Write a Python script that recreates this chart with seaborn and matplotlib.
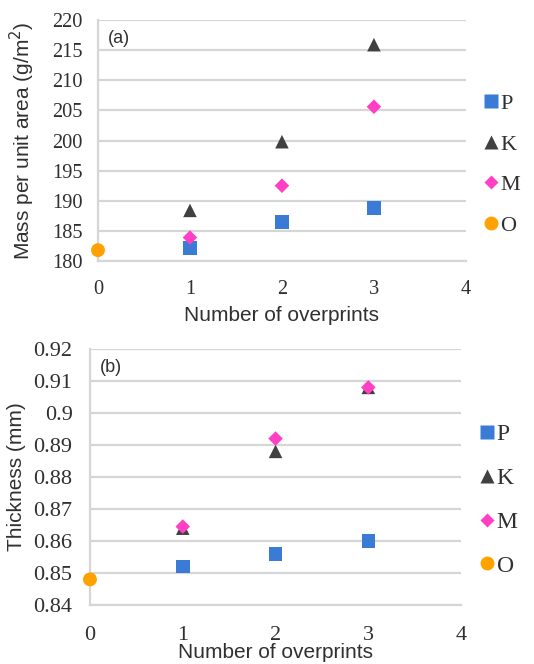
import matplotlib
matplotlib.use("Agg")
import matplotlib.pyplot as plt
import seaborn as sns
import pandas as pd

# Series names, markers, colours and marker areas
series = ["P", "K", "M", "O"]
colors = {"P": "#3a7bd5", "K": "#404040", "M": "#ff3fc4", "O": "#ffa200"}
markers = {"P": "s", "K": "^", "M": "D", "O": "o"}
sizes = {"P": 95, "K": 95, "M": 55, "O": 100}

# Number of overprints for each series
x_P = [1, 2, 3]
x_K = [1, 2, 3]
x_M = [1, 2, 3]
x_O = [0]

# (a) Mass per unit area (g/m²)
mass_P = [182.2, 186.5, 188.8]
mass_K = [188.4, 199.8, 215.9]
mass_M = [183.9, 192.5, 205.6]
mass_O = [181.8]

# (b) Thickness (mm)
thick_P = [0.852, 0.856, 0.860]
thick_K = [0.864, 0.888, 0.908]
thick_M = [0.8645, 0.892, 0.908]
thick_O = [0.848]

x_ticks = [0, 1, 2, 3, 4]
mass_ticks = [180, 185, 190, 195, 200, 205, 210, 215, 220]
thick_ticks = [0.84, 0.85, 0.86, 0.87, 0.88, 0.89, 0.90, 0.91, 0.92]
thick_ticklabels = ["0.84", "0.85", "0.86", "0.87", "0.88", "0.89", "0.9", "0.91", "0.92"]


def long_frame(xs, ys):
    rows = []
    for name, xv, yv in zip(series, xs, ys):
        for a, b in zip(xv, yv):
            rows.append({"Overprints": a, "Value": b, "Series": name})
    return pd.DataFrame(rows)


df_mass = long_frame([x_P, x_K, x_M, x_O], [mass_P, mass_K, mass_M, mass_O])
df_thick = long_frame([x_P, x_K, x_M, x_O], [thick_P, thick_K, thick_M, thick_O])

sns.set_theme(style="white")
serif = ["Liberation Serif", "DejaVu Serif"]
sans = ["Liberation Sans", "DejaVu Sans"]
plt.rcParams["font.family"] = sans

fig = plt.figure(figsize=(5.34, 6.64), dpi=100)
ax_a = fig.add_axes([0.1835, 0.6069, 0.689, 0.363])
ax_b = fig.add_axes([0.1685, 0.0889, 0.695, 0.3855])

grid_c = "#d6d6d6"
text_c = "#303030"


def draw(ax, df, yticks, yticklabels, ylabel, tag, tick_fs, ypad, xpad,
         xlabelpad, label_x, leg_x, leg_y, leg_space, leg_fs):
    sns.scatterplot(data=df, x="Overprints", y="Value", hue="Series", style="Series",
                    size="Series", hue_order=series, style_order=series,
                    size_order=series, palette=colors, markers=markers, sizes=sizes,
                    edgecolor="none", ax=ax, clip_on=False, zorder=3)
    ax.set_xlim(0, 4)
    ax.set_ylim(yticks[0], yticks[-1])
    ax.set_xticks(x_ticks)
    ax.set_yticks(yticks)
    ax.set_yticklabels(yticklabels)
    for lab in ax.get_xticklabels() + ax.get_yticklabels():
        lab.set_family(serif)
        lab.set_fontsize(tick_fs)
        lab.set_color(text_c)
    ax.tick_params(axis="y", length=0, pad=ypad)
    ax.tick_params(axis="x", length=0, pad=xpad)
    ax.yaxis.grid(True, color=grid_c, linewidth=1.6)
    ax.set_axisbelow(True)
    for side in ["top", "right"]:
        ax.spines[side].set_visible(False)
    ax.spines["left"].set_color(grid_c)
    ax.spines["left"].set_linewidth(1.6)
    ax.spines["bottom"].set_color(grid_c)
    ax.spines["bottom"].set_linewidth(1.6)
    ax.set_xlabel("Number of overprints", fontsize=15, color=text_c, labelpad=xlabelpad)
    ax.set_ylabel(ylabel, fontsize=15, color=text_c)
    ax.yaxis.set_label_coords(label_x, 0.5)
    ax.text(0.027, 0.96, tag, transform=ax.transAxes, fontsize=13,
            color=text_c, va="top", ha="left")
    sns.move_legend(ax, "center left", bbox_to_anchor=(leg_x, leg_y), frameon=False,
                    title=None, labelspacing=leg_space, handletextpad=0.0,
                    handlelength=0.8, borderaxespad=0.0, borderpad=0.0,
                    markerscale=1.0, prop={"family": serif, "size": leg_fs})
    leg = ax.get_legend()
    for t in leg.get_texts():
        t.set_color(text_c)


draw(ax_a, df_mass, mass_ticks, [str(v) for v in mass_ticks],
     "Mass per unit area (g/m$^2$)", "(a)", tick_fs=14.7, ypad=11, xpad=13.5,
     xlabelpad=5, label_x=-0.165, leg_x=1.045, leg_y=0.40, leg_space=0.9, leg_fs=16)
draw(ax_b, df_thick, thick_ticks, thick_ticklabels,
     "Thickness (mm)", "(b)", tick_fs=16, ypad=12.5, xpad=15,
     xlabelpad=-1, label_x=-0.172, leg_x=1.045, leg_y=0.41, leg_space=0.95, leg_fs=17)

fig.savefig("out.png", dpi=100)
